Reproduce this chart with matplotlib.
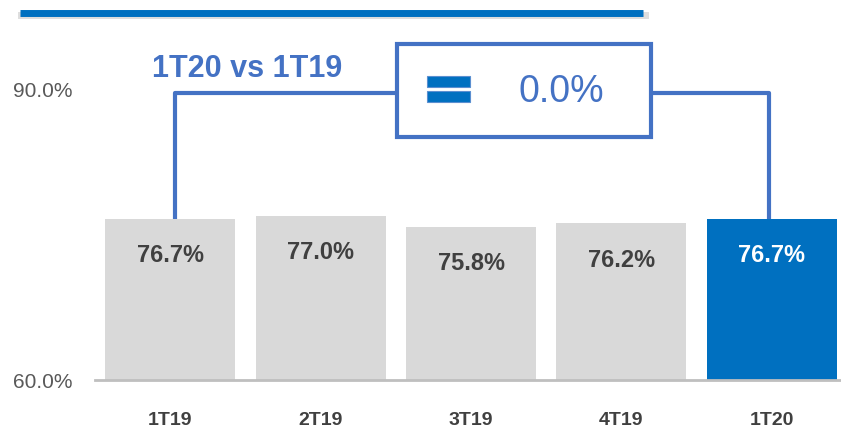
import matplotlib.pyplot as plt
from matplotlib.patches import Rectangle
from matplotlib.lines import Line2D

plt.rcParams['font.family'] = ['Liberation Sans', 'DejaVu Sans']

quarters = ['1T19', '2T19', '3T19', '4T19', '1T20']
values = [76.7, 77.0, 75.8, 76.2, 76.7]
change_label = '0.0%'
compare_label = '1T20 vs 1T19'
y_ticks = [60.0, 90.0]

GREY = '#D9D9D9'
HIGHLIGHT = '#0070C0'
ACCENT = '#4472C4'

fig = plt.figure(figsize=(8.41, 4.29), dpi=100)
ax = fig.add_axes([95 / 841, 49 / 429, 746 / 841, 380 / 429])

x = list(range(len(quarters)))
colors = [GREY] * (len(quarters) - 1) + [HIGHLIGHT]
ax.bar(x, values, width=0.865, color=colors, bottom=0, zorder=2)

ax.set_xlim(-0.5, 4.46)
ax.set_ylim(60, 99.3)

for i, v in enumerate(values):
    last = i == len(values) - 1
    ax.text(i, v - 3.8, f'{v:.1f}%', ha='center', va='center', fontsize=17,
            fontweight='bold', color='white' if last else '#404040', zorder=3)

# axes styling
for s in ['top', 'right', 'left']:
    ax.spines[s].set_visible(False)
ax.spines['bottom'].set_color('#BFBFBF')
ax.spines['bottom'].set_linewidth(2)
ax.set_xticks(x)
ax.set_xticklabels(quarters, fontsize=14, fontweight='bold', color='#404040')
ax.set_yticks(y_ticks)
ax.set_yticklabels([f'{t:.1f}%' for t in y_ticks], fontsize=15, color='#595959')
ax.tick_params(axis='both', length=0)
ax.tick_params(axis='x', pad=23)
ax.tick_params(axis='y', pad=16.5)

# comparison bracket
lvl = 89.7
box_x0, box_x1 = 1.51, 3.20
box_y0, box_y1 = 85.1, 94.8
lw = 3
ax.plot([0.03, 0.03, box_x0], [values[0], lvl, lvl], color=ACCENT, lw=lw,
        solid_capstyle='butt', zorder=4)
ax.plot([box_x1, 3.98, 3.98], [lvl, lvl, values[-1]], color=ACCENT, lw=lw,
        solid_capstyle='butt', zorder=4)
ax.add_patch(Rectangle((box_x0, box_y0), box_x1 - box_x0, box_y1 - box_y0,
                       facecolor='white', edgecolor=ACCENT, lw=lw, zorder=4,
                       clip_on=False))
# "=" icon
for y0 in (90.35, 88.75):
    ax.add_patch(Rectangle((1.71, y0), 0.285, 1.1, facecolor=HIGHLIGHT,
                           edgecolor='#5B8FD0', lw=0.8, zorder=5))
ax.text(2.60, 89.75, change_label, ha='center', va='center', fontsize=27,
        color=ACCENT, zorder=5)
ax.text(-0.12, 92.2, compare_label, ha='left', va='center', fontsize=22,
        fontweight='bold', color=ACCENT, zorder=5)

# top decorative rule with faint shadow
fig.add_artist(Line2D([21 / 841, 645 / 841], [1 - 15 / 429, 1 - 15 / 429],
                      color='#C8C8C8', lw=5, alpha=0.6))
fig.add_artist(Line2D([20 / 841, 643 / 841], [1 - 13 / 429, 1 - 13 / 429],
                      color=HIGHLIGHT, lw=5, solid_capstyle='butt'))

fig.savefig('out.png', dpi=100)
